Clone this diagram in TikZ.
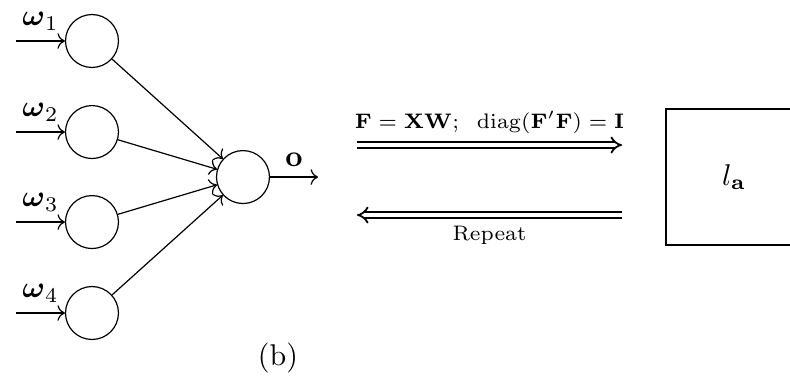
\documentclass[tikz,border=0pt]{standalone}
\usepackage{amsmath,amssymb}
\usepackage{tikz}
\usetikzlibrary{arrows.meta,positioning,calc}
\tikzset{
  unit/.style   ={circle,draw,minimum size=6.2mm,inner sep=0pt},
  feed/.style   ={->},
  pass/.style   ={double,line width=0.6pt,double distance=1.3pt,-{Implies}},
  lossbox/.style={rectangle,draw,thick,minimum size=15.9mm,inner sep=0pt},
}

\begin{document}
\begin{tikzpicture}
  \clip (0,0) rectangle (9.25,4.567);
  % input units with their weights
  \foreach \i/\y in {1/4.087,2/3.021,3/1.967,4/0.902}{
    \node[unit] (w\i) at (1.077,\y) {};
    \coordinate (s\i) at (0.187,\y);
    \draw[feed] (s\i) -- node[above] {$\boldsymbol{\omega}_\i$} (w\i);
  }
  % output unit
  \node[unit] (z) at (2.845,2.494) {};
  \foreach \i in {1,...,4}{
    \draw[feed] (w\i) -- (z);
  }
  \coordinate (zo) at (3.724,2.494);
  \draw[feed] (z) -- node[above] {$\mathbf{o}$} (zo);
  \node at (3.255,0.375) {(b)};
  % forward and backward passes
  \coordinate (fwdL) at (4.180,2.869);
  \coordinate (fwdR) at (7.283,2.869);
  \coordinate (bwdL) at (4.180,2.049);
  \coordinate (bwdR) at (7.283,2.049);
  \draw[pass] (fwdL) -- node[above,font=\scriptsize]
    {$\mathbf{F}=\mathbf{X}\mathbf{W};\;\;\mathrm{diag}(\mathbf{F}'\mathbf{F})=\mathbf{I}$} (fwdR);
  \draw[pass] (bwdR) -- node[below,font=\scriptsize] {Repeat} (bwdL);
  % loss
  \node[lossbox] (loss) at (8.595,2.494) {$l_{\mathbf{a}}$};
\end{tikzpicture}
\end{document}
